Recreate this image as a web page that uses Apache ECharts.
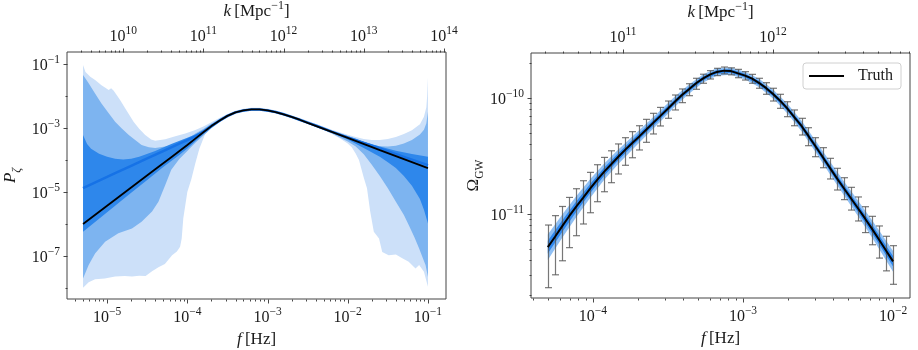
<!DOCTYPE html>
<html>
<head>
<meta charset="utf-8">
<script src="https://cdn.jsdelivr.net/npm/echarts@6.0.0/dist/echarts.min.js"></script>
<style>
  html, body { margin: 0; padding: 0; background: #fff; }
  #chart { width: 918px; height: 350px; }
</style>
</head>
<body>
<div id="chart"></div>
<script>
// every number below is a log10 exponent

// left panel: [log10 f, log10 P_zeta]
var pzTruth = [[-5.3,-6.00],[-5.0,-5.43],[-4.7,-4.86],[-4.4,-4.29],[-4.2,-3.91],[-4.0,-3.53],[-3.9,-3.33],[-3.8,-3.13],[-3.7,-2.94],[-3.6,-2.77],[-3.5,-2.62],[-3.4,-2.51],[-3.3,-2.45],[-3.2,-2.42],[-3.1,-2.42],[-3.0,-2.45],[-2.9,-2.50],[-2.8,-2.57],[-2.7,-2.65],[-2.6,-2.74],[-2.5,-2.84],[-2.4,-2.93],[-2.2,-3.12],[-2.0,-3.31],[-1.6,-3.69],[-1.3,-3.97],[-1.0,-4.25]];
var pzMedian = [[-5.3,-4.88],[-5.1,-4.64],[-4.9,-4.41],[-4.7,-4.18],[-4.5,-3.95],[-4.3,-3.72],[-4.1,-3.49],[-4.0,-3.38],[-3.9,-3.26],[-3.8,-3.12],[-3.7,-2.94],[-3.6,-2.77],[-3.5,-2.62],[-3.4,-2.51],[-3.3,-2.45],[-3.2,-2.42],[-3.1,-2.42],[-3.0,-2.45],[-2.9,-2.50],[-2.8,-2.57],[-2.7,-2.65],[-2.6,-2.74],[-2.5,-2.83],[-2.4,-2.92],[-2.2,-3.11],[-2.0,-3.29],[-1.6,-3.64],[-1.3,-3.90],[-1.0,-4.16]];
var pzLightHi = [[-5.3,-1.03],[-5.27,-1.25],[-5.21,-1.40],[-5.15,-1.50],[-5.07,-1.66],[-4.98,-1.81],[-4.95,-1.76],[-4.92,-1.83],[-4.84,-2.12],[-4.775,-2.38],[-4.67,-2.80],[-4.6,-3.02],[-4.525,-3.22],[-4.45,-3.36],[-4.4,-3.40],[-4.275,-3.35],[-4.15,-3.26],[-4.025,-3.17],[-3.9,-3.06],[-3.8,-2.95],[-3.7,-2.82],[-3.6,-2.69],[-3.5,-2.56],[-3.4,-2.46],[-3.3,-2.40],[-3.2,-2.37],[-3.1,-2.37],[-3.0,-2.40],[-2.9,-2.45],[-2.8,-2.52],[-2.6,-2.69],[-2.4,-2.87],[-2.2,-3.05],[-2.0,-3.21],[-1.9,-3.28],[-1.8,-3.34],[-1.7,-3.37],[-1.6,-3.37],[-1.5,-3.34],[-1.4,-3.28],[-1.3,-3.19],[-1.2,-3.07],[-1.1,-2.88],[-1.05,-2.65],[-1.02,-2.35],[-1.01,-2.0],[-1.0,-1.41]];
var pzLightLo = [[-5.3,-7.99],[-5.23,-7.82],[-5.15,-7.72],[-5.03,-7.70],[-4.9,-7.64],[-4.78,-7.62],[-4.69,-7.64],[-4.6,-7.61],[-4.52,-7.62],[-4.44,-7.47],[-4.36,-7.35],[-4.28,-7.25],[-4.19,-6.97],[-4.13,-6.86],[-4.09,-6.71],[-4.07,-6.45],[-4.05,-5.82],[-4.0,-5.00],[-3.95,-4.60],[-3.9,-4.10],[-3.85,-3.65],[-3.78,-3.20],[-3.71,-3.01],[-3.6,-2.83],[-3.5,-2.68],[-3.4,-2.56],[-3.3,-2.49],[-3.2,-2.46],[-3.1,-2.46],[-3.0,-2.49],[-2.9,-2.54],[-2.8,-2.61],[-2.6,-2.78],[-2.4,-2.97],[-2.3,-3.07],[-2.2,-3.18],[-2.1,-3.32],[-2.0,-3.48],[-1.95,-3.60],[-1.9,-3.80],[-1.86,-4.00],[-1.8,-4.55],[-1.76,-4.88],[-1.72,-5.61],[-1.675,-6.24],[-1.61,-6.45],[-1.57,-6.87],[-1.49,-6.97],[-1.4,-6.95],[-1.32,-7.07],[-1.24,-7.18],[-1.155,-7.39],[-1.11,-7.28],[-1.05,-7.49],[-1.0,-7.96]];
var pzMidHi = [[-5.3,-1.34],[-5.23,-1.60],[-5.15,-1.92],[-5.07,-2.23],[-4.98,-2.54],[-4.9,-2.80],[-4.82,-3.01],[-4.73,-3.22],[-4.65,-3.375],[-4.57,-3.53],[-4.48,-3.60],[-4.4,-3.625],[-4.275,-3.58],[-4.15,-3.50],[-4.025,-3.40],[-3.9,-3.17],[-3.8,-3.03],[-3.7,-2.87],[-3.6,-2.72],[-3.5,-2.59],[-3.4,-2.49],[-3.3,-2.43],[-3.2,-2.40],[-3.1,-2.40],[-3.0,-2.43],[-2.9,-2.48],[-2.8,-2.55],[-2.6,-2.72],[-2.4,-2.91],[-2.2,-3.09],[-2.0,-3.25],[-1.9,-3.33],[-1.8,-3.44],[-1.7,-3.52],[-1.6,-3.57],[-1.5,-3.58],[-1.4,-3.55],[-1.3,-3.48],[-1.2,-3.37],[-1.1,-3.20],[-1.05,-3.05],[-1.02,-2.85],[-1.0,-2.49]];
var pzMidLo = [[-5.3,-7.70],[-5.23,-7.28],[-5.15,-6.92],[-5.025,-6.55],[-4.86,-6.29],[-4.69,-6.14],[-4.57,-5.93],[-4.44,-5.61],[-4.36,-5.30],[-4.275,-4.78],[-4.2,-4.30],[-4.1,-3.97],[-4.0,-3.72],[-3.9,-3.46],[-3.8,-3.23],[-3.7,-3.01],[-3.6,-2.82],[-3.5,-2.66],[-3.4,-2.54],[-3.3,-2.48],[-3.2,-2.45],[-3.1,-2.45],[-3.0,-2.48],[-2.9,-2.53],[-2.8,-2.60],[-2.6,-2.77],[-2.4,-2.96],[-2.2,-3.16],[-2.0,-3.42],[-1.9,-3.58],[-1.8,-3.82],[-1.7,-4.15],[-1.6,-4.50],[-1.5,-4.88],[-1.4,-5.30],[-1.3,-5.72],[-1.24,-6.03],[-1.17,-6.40],[-1.11,-6.76],[-1.05,-7.15],[-1.03,-7.28],[-1.0,-7.65]];
var pzDarkHi = [[-5.3,-3.22],[-5.25,-3.50],[-5.2,-3.65],[-5.1,-3.80],[-5.0,-3.90],[-4.9,-3.96],[-4.8,-3.98],[-4.7,-3.96],[-4.6,-3.90],[-4.4,-3.72],[-4.2,-3.50],[-4.0,-3.30],[-3.9,-3.20],[-3.8,-3.07],[-3.7,-2.90],[-3.6,-2.74],[-3.5,-2.60],[-3.4,-2.50],[-3.3,-2.44],[-3.2,-2.41],[-3.1,-2.41],[-3.0,-2.44],[-2.9,-2.49],[-2.8,-2.56],[-2.6,-2.73],[-2.4,-2.92],[-2.2,-3.10],[-2.0,-3.27],[-1.8,-3.43],[-1.6,-3.58],[-1.4,-3.71],[-1.2,-3.81],[-1.0,-3.90]];
var pzDarkLo = [[-5.3,-6.24],[-5.0,-5.63],[-4.7,-5.02],[-4.5,-4.62],[-4.3,-4.22],[-4.1,-3.84],[-4.0,-3.64],[-3.9,-3.41],[-3.8,-3.19],[-3.7,-2.98],[-3.6,-2.80],[-3.5,-2.64],[-3.4,-2.53],[-3.3,-2.47],[-3.2,-2.44],[-3.1,-2.44],[-3.0,-2.47],[-2.9,-2.52],[-2.8,-2.59],[-2.6,-2.76],[-2.4,-2.95],[-2.2,-3.14],[-2.0,-3.36],[-1.8,-3.62],[-1.6,-3.90],[-1.5,-4.07],[-1.4,-4.25],[-1.3,-4.50],[-1.2,-4.80],[-1.1,-5.22],[-1.05,-5.55],[-1.0,-5.98]];

// right panel: 50 frequencies (log10 f) with Omega_GW truth and error bar ends
var gwLogF = [-4.301,-4.254,-4.207,-4.160,-4.113,-4.066,-4.019,-3.972,-3.925,-3.878,
  -3.831,-3.784,-3.738,-3.691,-3.644,-3.597,-3.550,-3.503,-3.456,-3.409,
  -3.362,-3.315,-3.268,-3.221,-3.174,-3.127,-3.080,-3.033,-2.986,-2.939,
  -2.892,-2.845,-2.798,-2.751,-2.704,-2.657,-2.610,-2.564,-2.517,-2.470,
  -2.423,-2.376,-2.329,-2.282,-2.235,-2.188,-2.141,-2.094,-2.047,-2.000];
var gwTruth = [-11.286,-11.198,-11.109,-11.021,-10.939,-10.861,-10.781,-10.706,-10.635,-10.571,
  -10.506,-10.445,-10.388,-10.331,-10.272,-10.212,-10.154,-10.094,-10.034,-9.977,
  -9.926,-9.875,-9.833,-9.798,-9.775,-9.764,-9.768,-9.788,-9.807,-9.833,
  -9.871,-9.915,-9.968,-10.025,-10.092,-10.166,-10.241,-10.327,-10.416,-10.506,
  -10.598,-10.688,-10.776,-10.862,-10.948,-11.036,-11.126,-11.220,-11.314,-11.408];
var gwErrHi = [-11.095,-11.014,-10.935,-10.857,-10.782,-10.713,-10.641,-10.575,-10.512,-10.455,
  -10.396,-10.342,-10.290,-10.239,-10.184,-10.132,-10.081,-10.026,-9.974,-9.922,
  -9.877,-9.830,-9.795,-9.764,-9.744,-9.733,-9.740,-9.753,-9.773,-9.796,
  -9.830,-9.868,-9.916,-9.968,-10.032,-10.103,-10.175,-10.256,-10.342,-10.428,
  -10.520,-10.606,-10.687,-10.770,-10.853,-10.937,-11.020,-11.103,-11.192,-11.273];
var gwErrLo = [-11.635,-11.524,-11.403,-11.290,-11.187,-11.086,-10.989,-10.894,-10.808,-10.730,
  -10.655,-10.580,-10.515,-10.448,-10.382,-10.310,-10.241,-10.175,-10.103,-10.040,
  -9.980,-9.925,-9.873,-9.836,-9.807,-9.792,-9.800,-9.825,-9.845,-9.873,
  -9.916,-9.968,-10.026,-10.089,-10.161,-10.239,-10.319,-10.411,-10.506,-10.601,
  -10.698,-10.793,-10.876,-10.966,-11.060,-11.160,-11.265,-11.380,-11.490,-11.606];

// reconstructed Omega_GW spread, every other frequency
var gwBandF = [-4.301,-4.207,-4.113,-4.019,-3.925,-3.831,-3.738,-3.644,-3.550,-3.456,-3.362,-3.268,-3.174,
  -3.080,-2.986,-2.892,-2.798,-2.704,-2.610,-2.517,-2.423,-2.329,-2.235,-2.141,-2.047,-2.000];
var gwOuterHi = [-11.176,-11.009,-10.849,-10.701,-10.565,-10.443,-10.331,-10.220,-10.106,-9.990,-9.886,-9.797,-9.742,
  -9.736,-9.774,-9.835,-9.929,-10.050,-10.195,-10.366,-10.543,-10.716,-10.882,-11.052,-11.229,-11.318];
var gwOuterLo = [-11.396,-11.209,-11.029,-10.861,-10.705,-10.569,-10.445,-10.324,-10.202,-10.078,-9.966,-9.869,-9.808,
  -9.800,-9.840,-9.907,-10.007,-10.134,-10.287,-10.466,-10.653,-10.836,-11.014,-11.200,-11.399,-11.498];
var gwInnerHi = [-11.231,-11.059,-10.894,-10.741,-10.600,-10.475,-10.360,-10.246,-10.130,-10.012,-9.906,-9.815,-9.759,
  -9.752,-9.791,-9.853,-9.948,-10.071,-10.218,-10.391,-10.571,-10.746,-10.915,-11.089,-11.272,-11.363];
var gwInnerLo = [-11.341,-11.159,-10.984,-10.821,-10.670,-10.537,-10.416,-10.298,-10.178,-10.056,-9.946,-9.851,-9.791,
  -9.784,-9.823,-9.889,-9.988,-10.113,-10.264,-10.441,-10.625,-10.806,-10.981,-11.163,-11.356,-11.453];

// axis ranges and labelled decades
var leftF = [-5.5, -0.775], leftP = [-8.34, -0.625];
var rightF = [-4.413, -1.887], rightO = [-11.724, -9.612];
var kShift = 14.8; // log10(k / f)
var leftFLabels = [-5, -4, -3, -2, -1];
var leftKLabels = [10, 11, 12, 13, 14];
var leftPLabels = [-7, -5, -3, -1];
var rightFLabels = [-4, -3, -2];
var rightKLabels = [11, 12];
var rightOLabels = [-11, -10];

var FONT = 'Liberation Serif';
var INK = '#1a1a1a';

function pw (e) { return Math.pow(10, e) }
function toXY (pairs) { return pairs.map(function (p) { return [pw(p[0]), pw(p[1])] }) }
function zip (xs, ys) { return xs.map(function (x, i) { return [x, ys[i]] }) }

var tickRich = {
  b: { fontFamily: FONT, fontSize: 16, color: INK, verticalAlign: 'bottom' },
  s: { fontFamily: FONT, fontSize: 11.5, color: INK, verticalAlign: 'bottom', padding: [0, 0, 8, 0] }
};
var nameRich = {
  i: { fontFamily: FONT, fontSize: 17, fontStyle: 'italic', color: INK, verticalAlign: 'bottom' },
  n: { fontFamily: FONT, fontSize: 17, color: INK, verticalAlign: 'bottom' },
  s: { fontFamily: FONT, fontSize: 12, color: INK, verticalAlign: 'bottom', padding: [0, 0, 8, 0] },
  pi: { fontFamily: FONT, fontSize: 17, fontStyle: 'italic', color: INK, verticalAlign: 'bottom', padding: [0, 0, 4, 0] },
  po: { fontFamily: FONT, fontSize: 17, color: INK, verticalAlign: 'bottom', padding: [0, 0, 4, 0] },
  zi: { fontFamily: FONT, fontSize: 12, fontStyle: 'italic', color: INK, verticalAlign: 'bottom' },
  zn: { fontFamily: FONT, fontSize: 11.5, color: INK, verticalAlign: 'bottom' }
};

function powLabel (shown) {
  return function (v) {
    var l = Math.log10(v);
    var e = Math.round(l);
    if (Math.abs(l - e) > 1e-6 || shown.indexOf(e) < 0) return '';
    return '{b|10}{s|' + (e < 0 ? '\u2212' + (-e) : e) + '}';
  }
}

function logAxis (grid, pos, range, shown, name, gap) {
  return {
    gridIndex: grid,
    type: 'log',
    logBase: 10,
    position: pos,
    min: pw(range[0]),
    max: pw(range[1]),
    axisLine: { show: false },
    axisTick: { show: false },
    splitLine: { show: false },
    axisLabel: { formatter: powLabel(shown), rich: tickRich, margin: 7, showMinLabel: true, showMaxLabel: true },
    name: name,
    nameLocation: 'middle',
    nameGap: gap,
    nameTextStyle: { rich: nameRich }
  }
}

// tick marks: whole decades in `major` are long, everything else short
function tickList (range, major, subs) {
  var out = [];
  for (var e = Math.floor(range[0]); e <= Math.ceil(range[1]); e++) {
    [1].concat(subs).forEach(function (m) {
      var l = e + Math.log10(m);
      if (l > range[0] + 0.004 && l < range[1] - 0.004) out.push([l, m === 1 && major.indexOf(e) >= 0]);
    })
  }
  return out
}

function tickSeries (xi, yi, side, ticks, other) {
  var data = ticks.map(function (t) {
    return side === 'left' ? [pw(other), pw(t[0]), t[1] ? 1 : 0] : [pw(t[0]), pw(other), t[1] ? 1 : 0]
  });
  return {
    type: 'custom',
    xAxisIndex: xi,
    yAxisIndex: yi,
    silent: true,
    z: 20,
    data: data,
    renderItem: function (params, api) {
      var p = api.coord([api.value(0), api.value(1)]);
      var len = api.value(2) ? 4 : 2;
      var x = Math.round(p[0]) + 0.5, y = Math.round(p[1]) + 0.5;
      var s = { x1: x, y1: y, x2: x, y2: y };
      if (side === 'bottom') s.y2 = y + len;
      else if (side === 'top') s.y2 = y - len;
      else s.x2 = x - len;
      return { type: 'line', shape: s, style: { stroke: '#333', lineWidth: 0.9 } }
    }
  }
}

function bandSeries (hi, lo, color, xi, yi, z) {
  var pts = toXY(hi.concat(lo.slice().reverse()));
  return {
    type: 'custom',
    xAxisIndex: xi,
    yAxisIndex: yi,
    silent: true,
    z: z,
    data: pts,
    renderItem: function (params, api) {
      if (params.dataIndex !== 0) return null;
      return {
        type: 'polygon',
        shape: { points: pts.map(function (p) { return api.coord(p) }) },
        style: { fill: color }
      }
    }
  }
}

function lineSeries (name, pairs, color, width, xi, yi, z) {
  return {
    name: name,
    type: 'line',
    xAxisIndex: xi,
    yAxisIndex: yi,
    data: toXY(pairs),
    symbol: 'none',
    silent: true,
    z: z,
    color: color,
    lineStyle: { color: color, width: width }
  }
}

var errorBars = {
  type: 'custom',
  xAxisIndex: 2,
  yAxisIndex: 1,
  silent: true,
  z: 6,
  encode: { x: 0, y: [1, 2] },
  data: gwLogF.map(function (e, i) { return [pw(e), pw(gwErrLo[i]), pw(gwErrHi[i])] }),
  renderItem: function (params, api) {
    var lo = api.coord([api.value(0), api.value(1)]);
    var hi = api.coord([api.value(0), api.value(2)]);
    var x = Math.round(lo[0]) + 0.5, w = 3.5;
    var st = { stroke: 'rgba(85,85,85,0.8)', lineWidth: 1.2 };
    return {
      type: 'group',
      children: [
        { type: 'line', shape: { x1: x, y1: hi[1], x2: x, y2: lo[1] }, style: st },
        { type: 'line', shape: { x1: x - w, y1: hi[1], x2: x + w, y2: hi[1] }, style: st },
        { type: 'line', shape: { x1: x - w, y1: lo[1], x2: x + w, y2: lo[1] }, style: st }
      ]
    }
  }
};

var gridBase = { show: true, borderColor: '#444', borderWidth: 1, backgroundColor: 'transparent', containLabel: false, outerBoundsMode: 'none' };

var leftK = [leftF[0] + kShift, leftF[1] + kShift];
var rightK = [rightF[0] + kShift, rightF[1] + kShift];
var subs = [2, 3, 4, 5, 6, 7, 8, 9];

var option = {
  animation: false,
  backgroundColor: '#fff',
  grid: [
    Object.assign({ left: 67, top: 52, width: 379, height: 247 }, gridBase),
    Object.assign({ left: 531, top: 53, width: 379, height: 245 }, gridBase)
  ],
  legend: {
    data: [{ name: 'Truth', icon: 'rect' }],
    right: 17,
    top: 63,
    itemWidth: 35,
    itemHeight: 2,
    padding: [5, 8, 5, 6],
    borderColor: '#d0d0d0',
    borderWidth: 1,
    borderRadius: 3,
    backgroundColor: 'rgba(255,255,255,0.85)',
    textStyle: { fontFamily: FONT, fontSize: 16, color: INK, padding: [0, 0, 0, 9] }
  },
  xAxis: [
    logAxis(0, 'bottom', leftF, leftFLabels, '{i|f} {n|[Hz]}', 26),
    logAxis(0, 'top', leftK, leftKLabels, '{i|k} {n|[Mpc}{s|\u22121}{n|]}', 27),
    logAxis(1, 'bottom', rightF, rightFLabels, '{i|f} {n|[Hz]}', 26),
    logAxis(1, 'top', rightK, rightKLabels, '{i|k} {n|[Mpc}{s|\u22121}{n|]}', 27)
  ],
  yAxis: [
    logAxis(0, 'left', leftP, leftPLabels, '{pi|P}{zi|\u03b6}', 44),
    logAxis(1, 'left', rightO, rightOLabels, '{po|\u03a9}{zn|GW}', 45)
  ],
  series: [
    bandSeries(pzLightHi, pzLightLo, '#cce0f9', 0, 0, 1),
    bandSeries(pzMidHi, pzMidLo, '#7db4f0', 0, 0, 2),
    bandSeries(pzDarkHi, pzDarkLo, '#2e87eb', 0, 0, 3),
    lineSeries('median', pzMedian, '#1672e6', 2.5, 0, 0, 4),
    lineSeries('truth P', pzTruth, '#000', 1.8, 0, 0, 5),
    bandSeries(zip(gwBandF, gwOuterHi), zip(gwBandF, gwOuterLo), '#8fc0f5', 2, 1, 2),
    bandSeries(zip(gwBandF, gwInnerHi), zip(gwBandF, gwInnerLo), '#2f88ee', 2, 1, 3),
    errorBars,
    lineSeries('Truth', zip(gwLogF, gwTruth), '#000', 2, 2, 1, 7),
    tickSeries(0, 0, 'bottom', tickList(leftF, leftFLabels, subs), leftP[0]),
    tickSeries(1, 0, 'top', tickList(leftK, leftKLabels, subs), leftP[1]),
    tickSeries(0, 0, 'left', tickList(leftP, leftPLabels, []), leftF[0]),
    tickSeries(2, 1, 'bottom', tickList(rightF, rightFLabels, subs), rightO[0]),
    tickSeries(3, 1, 'top', tickList(rightK, rightKLabels, subs), rightO[1]),
    tickSeries(2, 1, 'left', tickList(rightO, rightOLabels, subs), rightF[0])
  ]
};

var myChart = echarts.init(document.getElementById('chart'));
myChart.setOption(option);
</script>
</body>
</html>
